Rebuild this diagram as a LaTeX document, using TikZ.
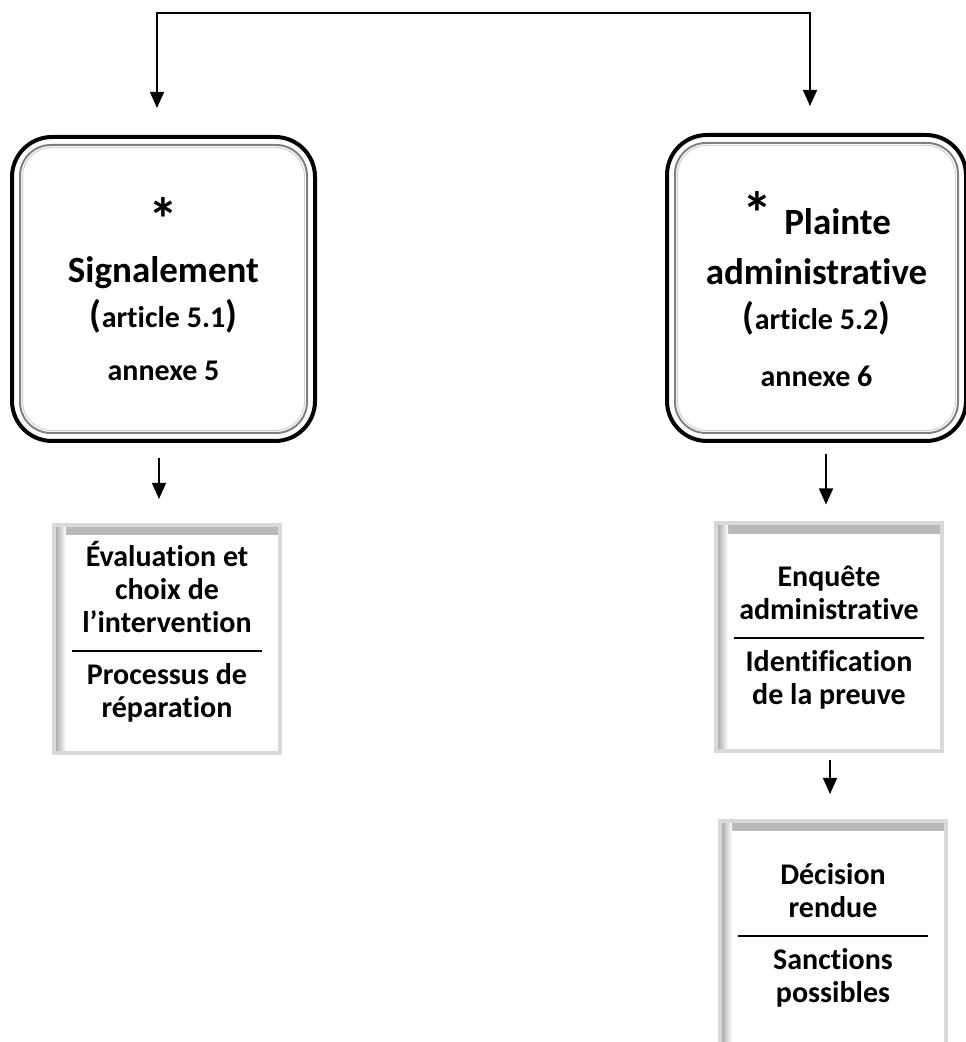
\documentclass[tikz,border=0pt]{standalone}
\usepackage{fontspec}
\setmainfont{Carlito}[Ligatures={NoCommon}]
\usetikzlibrary{arrows.meta,calc}
\newcommand\astx{{\fontsize{60pt}{60pt}\selectfont*}}
\newcommand\minor[1]{{\fontsize{30pt}{36pt}\selectfont#1}}
\newcommand\bigparen[1]{{\fontsize{38pt}{40pt}\selectfont#1}}
\newcommand\sepline{\\[-13pt]\rule{190pt}{2pt}\\[-1pt]}

\begin{document}
\begin{tikzpicture}[x=1pt,y=1pt,>={Triangle[width=14pt,length=16pt]},
 flow/.style={line width=1.5pt},
 mainbox/.style={draw,line width=4pt,rounded corners=40pt,fill=white,align=center,
  font=\fontsize{37pt}{45pt}\selectfont\bfseries},
 innerframe/.style={draw=black!50,line width=2pt,rounded corners=31pt},
 innerlight/.style={draw=black!18,line width=1pt,rounded corners=29pt},
 stepbox/.style={draw=black!15,line width=4pt,fill=white,minimum width=226pt,minimum height=228pt,
  align=center,font=\fontsize{30pt}{33pt}\selectfont\bfseries,
  path picture={
   \shade[top color=black!28,bottom color=white] (path picture bounding box.north west) rectangle ([yshift=-10pt]path picture bounding box.north east);
   \shade[left color=black!38,right color=white] (path picture bounding box.north west) rectangle ([xshift=12pt]path picture bounding box.south west);
  }}]
 \useasboundingbox (0,0) rectangle (966,1042);

 % the two ways in
 \node[mainbox,minimum width=303pt,minimum height=304pt] (sig) at (163.5,753)
  {\astx\\[-3pt]Signalement\\[0pt]\minor{\bigparen(article 5.1\bigparen)}\\[8pt]\minor{annexe 5}};
 \node[mainbox,minimum width=299pt,minimum height=306pt] (pla) at (816.5,754)
  {\rule{0pt}{46pt}\astx\,\,Plainte\\[5pt]administrative\\[0pt]\minor{\bigparen(article 5.2\bigparen)}\\[12pt]\minor{annexe 6}};
 \foreach \n in {sig,pla} {
  \draw[innerframe] ([shift={(10pt,-10pt)}]\n.north west) rectangle ([shift={(-10pt,10pt)}]\n.south east);
  \draw[innerlight] ([shift={(12.5pt,-12.5pt)}]\n.north west) rectangle ([shift={(-12.5pt,12.5pt)}]\n.south east);
 }

 % steps
 \node[stepbox] (eval) at (167,403) {Évaluation et\\choix de\\l’intervention\sepline Processus de\\réparation\rule[-20pt]{0pt}{20pt}};
 \node[stepbox] (enq) at (829,404.5) {Enquête\\administrative\sepline Identification\\de la preuve};
 \node[stepbox] (dec) at (833,107) {Décision\\rendue\sepline Sanctions\\possibles};

 % connectors
 \coordinate (split) at (484,1029);
 \draw[flow,<->,shorten <=27pt,shorten >=27pt] ([xshift=-6.5pt]sig.north) |- (split) -| ([xshift=-6.5pt]pla.north);
 \draw[flow,->,shorten <=15pt,shorten >=24pt] ([xshift=-4.5pt]sig.south) -- ([xshift=-8pt]eval.north);
 \draw[flow,->,shorten <=11pt,shorten >=17pt] ([xshift=9.5pt]pla.south) -- ([xshift=-3pt]enq.north);
 \draw[flow,->,shorten <=7pt,shorten >=25pt] ([xshift=1pt]enq.south) -- ([xshift=-3pt]dec.north);
\end{tikzpicture}
\end{document}
